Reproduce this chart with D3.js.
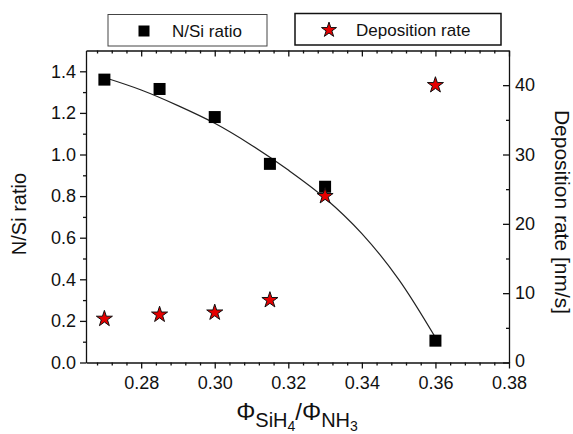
<!DOCTYPE html>
<html><head><meta charset="utf-8">
<script src="https://cdn.jsdelivr.net/npm/d3@7"></script>
<style>
body{margin:0;background:#fff;}
text{font-family:"Liberation Sans",Arial,Helvetica,sans-serif;fill:#111;}
</style></head>
<body><svg id="c" width="573" height="434"></svg>
<script>
// ---- data ----
const flowRatio = [0.27, 0.285, 0.30, 0.315, 0.33, 0.36];
const nSiRatio = [1.36, 1.315, 1.18, 0.955, 0.845, 0.105];
const depositionRate = [6.3, 6.9, 7.2, 9.0, 24.0, 40.0];
// fitted curve
const fitX = [0.27, 0.28, 0.29, 0.30, 0.31, 0.32, 0.33, 0.34, 0.35, 0.36];
const fitY = [1.37, 1.31, 1.235, 1.15, 1.045, 0.925, 0.79, 0.62, 0.40, 0.12];
const xTickValues = [0.28, 0.30, 0.32, 0.34, 0.36, 0.38];
const yLeftTicks = [0.0, 0.2, 0.4, 0.6, 0.8, 1.0, 1.2, 1.4];
const yRightTicks = [0, 10, 20, 30, 40];
const legendLabels = ["N/Si ratio", "Deposition rate"];

// ---- layout ----
const L = 86, R = 509, T = 50.5, B = 362.5;
const svg = d3.select("#c");
const x = d3.scaleLinear().domain([0.265, 0.38]).range([L, R]);
const yL = d3.scaleLinear().domain([0, 1.5]).range([B, T]);
const yR = d3.scaleLinear().domain([0, 45]).range([B, T]);

const xMinor = d3.range(0, 29).map(i => +(0.268 + i * 0.004).toFixed(3)).filter(v => !xTickValues.some(t => Math.abs(t - v) < 1e-6) && v <= 0.38);
const yLMinor = [0.1, 0.3, 0.5, 0.7, 0.9, 1.1, 1.3];
const yRMinor = [5, 15, 25, 35];

function styleAxis(g) {
  g.selectAll("path,line").attr("stroke", "#111").attr("stroke-width", 1.3);
  g.selectAll("text").attr("font-size", 18).attr("fill", "#111")
    .attr("font-family", '"Liberation Sans",Arial,sans-serif');
}

// bottom axis
const gB = svg.append("g").attr("transform", `translate(0,${B})`);
gB.call(d3.axisBottom(x).tickValues(xTickValues).tickFormat(d3.format(".2f")).tickSize(6).tickSizeOuter(0).tickPadding(8));
gB.append("g").call(d3.axisBottom(x).tickValues(xMinor).tickSize(3).tickFormat("")).select(".domain").remove();
styleAxis(gB);
// top axis (inward)
const gT = svg.append("g").attr("transform", `translate(0,${T})`);
gT.call(d3.axisBottom(x).tickValues(xTickValues).tickSize(6).tickSizeOuter(0).tickFormat(""));
gT.append("g").call(d3.axisBottom(x).tickValues(xMinor).tickSize(3).tickFormat("")).select(".domain").remove();
styleAxis(gT);
// left axis
const gL = svg.append("g").attr("transform", `translate(${L},0)`);
gL.call(d3.axisLeft(yL).tickValues(yLeftTicks).tickFormat(d3.format(".1f")).tickSize(6).tickSizeOuter(0).tickPadding(4));
gL.append("g").call(d3.axisLeft(yL).tickValues(yLMinor).tickSize(3).tickFormat("")).select(".domain").remove();
styleAxis(gL);
// right axis (inward ticks, labels outside)
const gR = svg.append("g").attr("transform", `translate(${R},0)`);
gR.call(d3.axisRight(yR).tickValues(yRightTicks).tickSize(-6).tickSizeOuter(0).tickPadding(6));
gR.selectAll(".tick text").attr("x", 6);
gR.append("g").call(d3.axisRight(yR).tickValues(yRMinor).tickSize(-3).tickFormat("")).select(".domain").remove();
styleAxis(gR);
gR.selectAll(".tick text").filter(d => d === 0).attr("dy", "0.2em");

// fit line
const line = d3.line().x(d => x(d[0])).y(d => yL(d[1])).curve(d3.curveCatmullRom);
svg.append("path").datum(fitX.map((v, i) => [v, fitY[i]]))
  .attr("d", line).attr("fill", "none").attr("stroke", "#222").attr("stroke-width", 1.2);

// squares
const sq = 12;
svg.append("g").selectAll("rect").data(flowRatio).join("rect")
  .attr("x", (d, i) => x(d) - sq / 2).attr("y", (d, i) => yL(nSiRatio[i]) - sq / 2)
  .attr("width", sq).attr("height", sq).attr("fill", "#000");

// stars
const star = d3.symbol().type(d3.symbolStar).size(80);
svg.append("g").selectAll("path").data(flowRatio).join("path")
  .attr("d", star)
  .attr("transform", (d, i) => `translate(${x(d)},${yR(depositionRate[i])})`)
  .attr("fill", "#e60000").attr("stroke", "#111").attr("stroke-width", 1);

// legend boxes
const lg = svg.append("g");
lg.append("rect").attr("x", 108).attr("y", 14.5).attr("width", 159).attr("height", 31.5)
  .attr("fill", "#fff").attr("stroke", "#444").attr("stroke-width", 1);
lg.append("rect").attr("x", 144 - 5.5).attr("y", 31 - 5.5).attr("width", 11).attr("height", 11).attr("fill", "#000");
lg.append("text").attr("x", 172).attr("y", 31).attr("dy", "0.36em").attr("font-size", 17).text(legendLabels[0]);

lg.append("rect").attr("x", 295).attr("y", 13.5).attr("width", 206).attr("height", 31.5)
  .attr("fill", "#fff").attr("stroke", "#111").attr("stroke-width", 1.5);
lg.append("path").attr("d", d3.symbol().type(d3.symbolStar).size(70)).attr("transform", "translate(329,30)")
  .attr("fill", "#e60000").attr("stroke", "#111").attr("stroke-width", 1);
lg.append("text").attr("x", 356).attr("y", 30).attr("dy", "0.36em").attr("font-size", 17).text(legendLabels[1]);

// axis titles
svg.append("text").attr("transform", "translate(26,214) rotate(-90)").attr("text-anchor", "middle")
  .attr("font-size", 20).text("N/Si ratio");
svg.append("text").attr("transform", "translate(555,212) rotate(90)").attr("text-anchor", "middle")
  .attr("font-size", 21).text("Deposition rate [nm/s]");

const xt = svg.append("text").attr("x", 297).attr("y", 420).attr("text-anchor", "middle").attr("font-size", 24);
xt.append("tspan").text("Φ");
xt.append("tspan").attr("font-size", 20).attr("dy", 7).text("SiH");
xt.append("tspan").attr("font-size", 14).attr("dy", 4).text("4");
xt.append("tspan").attr("font-size", 24).attr("dy", -11).text("/Φ");
xt.append("tspan").attr("font-size", 20).attr("dy", 7).text("NH");
xt.append("tspan").attr("font-size", 14).attr("dy", 4).text("3");
</script></body></html>
